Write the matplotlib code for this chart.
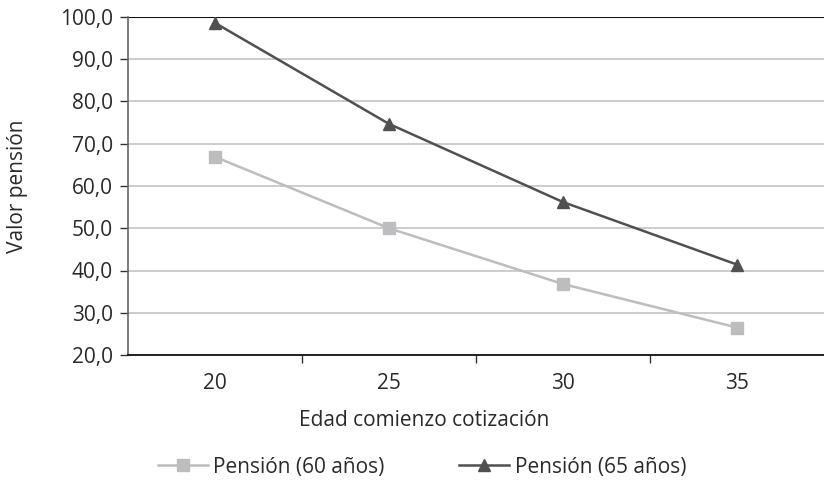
import numpy as np
import matplotlib.pyplot as plt
from matplotlib.ticker import FuncFormatter, FixedLocator

plt.rcParams['font.family'] = ['Open Sans', 'DejaVu Sans']

edades = ['20', '25', '30', '35']
pension_60 = [66.9, 50.0, 36.8, 26.5]
pension_65 = [98.6, 74.7, 56.2, 41.4]

fig = plt.figure(figsize=(8.24, 4.8), dpi=100)
ax = fig.add_axes([128/824, 125/480, 696/824, 338/480])

x = np.arange(len(edades))
ax.plot(x, pension_60, color='#bdbdc0', lw=1.8, marker='s', ms=8,
        mec='#bdbdc0', label='Pensión (60 años)', zorder=3)
ax.plot(x, pension_65, color='#505050', lw=1.8, marker='^', ms=9,
        mec='#505050', label='Pensión (65 años)', zorder=4)

ax.set_xlim(-0.5, 3.5)
ax.set_ylim(20, 100)
ax.set_yticks(np.arange(20, 101, 10))
ax.yaxis.set_major_formatter(FuncFormatter(lambda v, p: f'{v:.1f}'.replace('.', ',')))
ax.set_xticks(x)
ax.set_xticklabels(edades)
ax.xaxis.set_minor_locator(FixedLocator([0.5, 1.5, 2.5]))
ax.tick_params(axis='x', which='major', length=0, pad=13, labelsize=15, labelcolor='#2a2a2a')
ax.tick_params(axis='x', which='minor', length=6, width=1, color='#333333', direction='out')
ax.tick_params(axis='y', length=5.5, width=1, color='#333333', labelsize=15, labelcolor='#2a2a2a', pad=5.5)

ax.grid(axis='y', color='#c4c4c4', lw=1.2)
ax.axhline(100, color='#111111', lw=1.5, zorder=2)
ax.spines['top'].set_visible(False)
ax.spines['right'].set_visible(False)
ax.spines['left'].set_color('#666666')
ax.spines['left'].set_linewidth(1.2)
ax.spines['bottom'].set_color('#111111')
ax.spines['bottom'].set_linewidth(1.3)

fig.text(18/824, 1 - 186/480, 'Valor pensión', rotation=90, ha='center', va='center',
         fontsize=15, color='#2a2a2a')
fig.text(424/824, 1 - 420/480, 'Edad comienzo cotización', ha='center', va='center',
         fontsize=15, color='#2a2a2a')

fig.legend(loc='center', bbox_to_anchor=(422/824, 1 - 467/480), ncol=2, frameon=False,
           fontsize=15, handlelength=2.4, handletextpad=0.25, columnspacing=3.6,
           labelcolor='#2a2a2a')

fig.savefig('out.png', dpi=100)
